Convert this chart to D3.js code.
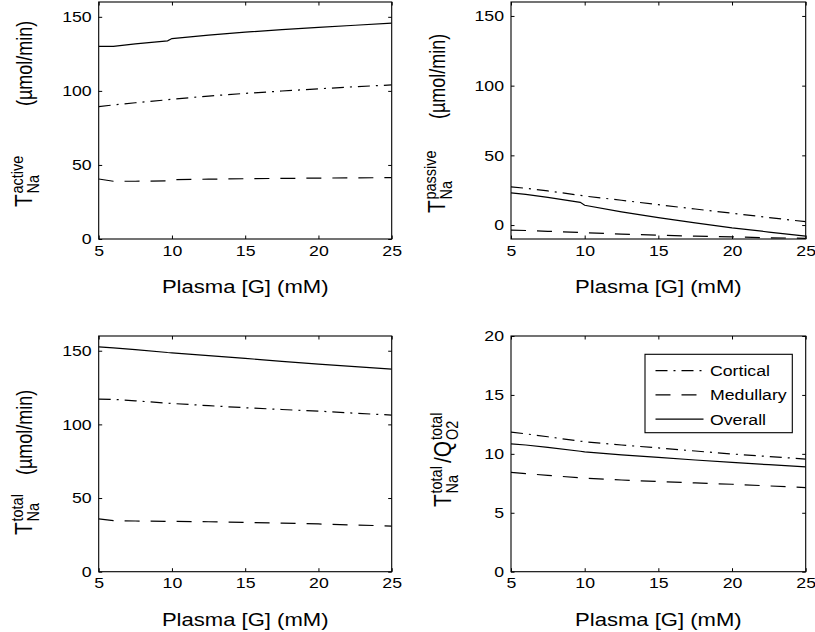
<!DOCTYPE html>
<html>
<head>
<meta charset="utf-8">
<script src="https://cdn.jsdelivr.net/npm/d3@7"></script>
<style>
  html, body { margin: 0; padding: 0; background: #fff; }
  svg { display: block; }
  text { font-family: "Liberation Sans", Arial, Helvetica, sans-serif; fill: #000; }
</style>
</head>
<body>
<svg id="chart" width="815" height="632"></svg>
<script>
// ---------------- data ----------------
const plasmaG = [5, 6, 7.5, 9.7, 10, 12.5, 15, 17.5, 20, 22.5, 25];

const activeCortical  = [89.4, 90.5, 92.0, 94.0, 94.4, 96.5, 98.3, 99.9, 101.4, 102.8, 104.0];
const activeMedullary = [40.5, 39.0, 39.0, 39.2, 40.0, 40.4, 40.7, 40.9, 41.1, 41.3, 41.4];
const activeOverall   = [130.0, 130.1, 131.7, 133.8, 135.3, 137.6, 139.6, 141.3, 142.9, 144.3, 145.7];

const passiveCortical  = [27.4, 26.4, 24.5, 21.3, 20.8, 17.8, 14.6, 11.5, 8.5, 5.4, 2.4];
const passiveMedullary = [-3.6, -3.9, -4.5, -5.3, -5.5, -6.5, -7.3, -8.0, -8.5, -9.1, -9.5];
const passiveOverall   = [23.1, 22.0, 19.8, 16.3, 14.2, 9.5, 5.3, 1.6, -2.0, -5.0, -7.9];

const totalCortical  = [117.2, 117.0, 116.0, 114.4, 114.2, 112.7, 111.3, 110.1, 109.0, 107.6, 106.3];
const totalMedullary = [35.8, 34.7, 34.4, 34.2, 34.2, 33.9, 33.5, 33.0, 32.4, 31.7, 31.0];
const totalOverall   = [152.6, 152.0, 150.8, 148.8, 148.6, 146.7, 144.8, 142.8, 140.9, 139.2, 137.5];

const ratioCortical  = [11.84, 11.7, 11.45, 11.07, 11.03, 10.75, 10.5, 10.24, 9.99, 9.77, 9.56];
const ratioMedullary = [8.42, 8.32, 8.18, 7.96, 7.93, 7.78, 7.65, 7.53, 7.42, 7.28, 7.14];
const ratioOverall   = [10.84, 10.75, 10.55, 10.22, 10.17, 9.92, 9.7, 9.48, 9.27, 9.08, 8.9];

const seriesNames = ["Cortical", "Medullary", "Overall"];
const xTicks = [5, 10, 15, 20, 25];
const yTicksFlux = [0, 50, 100, 150];
const yTicksRatio = [0, 5, 10, 15, 20];
const xLabel = "Plasma [G] (mM)";
const unitLabel = "(\u00b5mol/min)";

// ---------------- styling ----------------
const SX = 1.18; // horizontal stretch of the original figure's text
const dashStyles = { Cortical: "12,6,2,6", Medullary: "15,11", Overall: null };
const FM = 21, FS = 14.5, FU = 18; // main, sub/sup, unit font sizes
const SUP = -7.5, SUB = 6;

const svg = d3.select("#chart");

const panels = [
  { x0: 98.7, x1: 391.7, y0: 239, y1: 2, yDomain: [0, 160], yTicks: yTicksFlux,
    data: [activeCortical, activeMedullary, activeOverall],
    label: { X: 31.5, Y: 207, pieces: [
      { t: "T", u: 0, v: 0, s: FM },
      { t: "active", u: 13.5, v: SUP, s: FS },
      { t: "Na", u: 13.5, v: SUB, s: FS },
      { t: unitLabel, u: 101, v: 0, s: FU } ] } },
  { x0: 511, x1: 805.7, y0: 239, y1: 2, yDomain: [-10, 160], yTicks: yTicksFlux,
    data: [passiveCortical, passiveMedullary, passiveOverall],
    label: { X: 444.5, Y: 213, pieces: [
      { t: "T", u: 0, v: 0, s: FM },
      { t: "passive", u: 13.5, v: SUP, s: FS },
      { t: "Na", u: 13.5, v: SUB, s: FS },
      { t: unitLabel, u: 94, v: 0, s: FU } ] } },
  { x0: 98.7, x1: 391.7, y0: 571.7, y1: 336, yDomain: [0, 160], yTicks: yTicksFlux,
    data: [totalCortical, totalMedullary, totalOverall],
    label: { X: 31.5, Y: 535, pieces: [
      { t: "T", u: 0, v: 0, s: FM },
      { t: "total", u: 13.5, v: SUP, s: FS },
      { t: "Na", u: 13.5, v: SUB, s: FS },
      { t: unitLabel, u: 60, v: 0, s: FU } ] } },
  { x0: 511, x1: 805.7, y0: 571.7, y1: 336, yDomain: [0, 20], yTicks: yTicksRatio,
    data: [ratioCortical, ratioMedullary, ratioOverall],
    label: { X: 451, Y: 507, pieces: [
      { t: "T", u: 0, v: 0, s: FM },
      { t: "total", u: 13.5, v: SUP, s: FS },
      { t: "Na", u: 13.5, v: SUB, s: FS },
      { t: "/Q", u: 44, v: 0, s: FM },
      { t: "total", u: 67, v: SUP, s: FS },
      { t: "O2", u: 67, v: SUB, s: FS } ] },
    legend: true }
];

panels.forEach((p, i) => {
  const x = d3.scaleLinear().domain([5, 25]).range([p.x0, p.x1]);
  const y = d3.scaleLinear().domain(p.yDomain).range([p.y0, p.y1]);
  const g = svg.append("g");

  const clipId = "clip" + i;
  svg.append("clipPath").attr("id", clipId).append("rect")
    .attr("x", p.x0).attr("y", p.y1).attr("width", p.x1 - p.x0).attr("height", p.y0 - p.y1);

  // lines
  const line = d3.line().x((d, j) => x(plasmaG[j])).y(d => y(d));
  p.data.forEach((arr, k) => {
    const name = seriesNames[k];
    g.append("path")
      .attr("clip-path", `url(#${clipId})`)
      .attr("d", line(arr))
      .attr("fill", "none")
      .attr("stroke", "#000")
      .attr("stroke-width", 1.2)
      .attr("stroke-dasharray", dashStyles[name]);
  });

  // axes
  const styleAxis = sel => {
    sel.select(".domain").remove();
    sel.selectAll("line").attr("stroke", "#000");
  };
  const bottom = g.append("g").attr("transform", `translate(0,${p.y0})`)
    .call(d3.axisBottom(x).tickValues(xTicks).tickSize(-3.5).tickSizeOuter(0).tickPadding(6))
    .call(styleAxis);
  bottom.selectAll("text").attr("font-size", 15).attr("transform", `scale(${SX},1)`);

  const left = g.append("g").attr("transform", `translate(${p.x0},0)`)
    .call(d3.axisLeft(y).tickValues(p.yTicks).tickSize(-3.5).tickSizeOuter(0).tickPadding(7 / SX))
    .call(styleAxis);
  left.selectAll("text").attr("font-size", 15).attr("transform", `scale(${SX},1)`);

  g.append("g").attr("transform", `translate(0,${p.y1})`)
    .call(d3.axisTop(x).tickValues(xTicks).tickSize(-3.5).tickSizeOuter(0).tickFormat(""))
    .call(styleAxis);
  g.append("g").attr("transform", `translate(${p.x1},0)`)
    .call(d3.axisRight(y).tickValues(p.yTicks).tickSize(-3.5).tickSizeOuter(0).tickFormat(""))
    .call(styleAxis);

  g.append("rect")
    .attr("x", p.x0).attr("y", p.y1)
    .attr("width", p.x1 - p.x0).attr("height", p.y0 - p.y1)
    .attr("fill", "none").attr("stroke", "#000").attr("stroke-width", 1.1);

  // x label
  g.append("text")
    .attr("transform", `translate(${(p.x0 + p.x1) / 2},${p.y0 + 54}) scale(${SX},1)`)
    .attr("text-anchor", "middle")
    .attr("font-size", 18.7)
    .text(xLabel);

  // y label (rotated, built from pieces for sub/superscripts)
  const lg = g.append("g")
    .attr("transform", `translate(${p.label.X},${p.label.Y}) scale(${SX},1) rotate(-90)`);
  p.label.pieces.forEach(pc => {
    lg.append("text").attr("x", pc.u).attr("y", pc.v).attr("font-size", pc.s).text(pc.t);
  });

  // legend
  if (p.legend) {
    const lx = 645, ly = 354.3, lw = 147.3, lh = 78.4;
    const leg = g.append("g");
    leg.append("rect").attr("x", lx).attr("y", ly).attr("width", lw).attr("height", lh)
      .attr("fill", "#fff").attr("stroke", "#000").attr("stroke-width", 1.1);
    seriesNames.forEach((name, k) => {
      const cy = 370.7 + k * 24.2;
      leg.append("line").attr("x1", 655.5).attr("x2", 703.5).attr("y1", cy).attr("y2", cy)
        .attr("stroke", "#000").attr("stroke-width", 1.2)
        .attr("stroke-dasharray", dashStyles[name]);
      leg.append("text")
        .attr("transform", `translate(710,${cy + 5.5}) scale(${SX},1)`)
        .attr("font-size", 15)
        .text(name);
    });
  }
});
</script>
</body>
</html>
